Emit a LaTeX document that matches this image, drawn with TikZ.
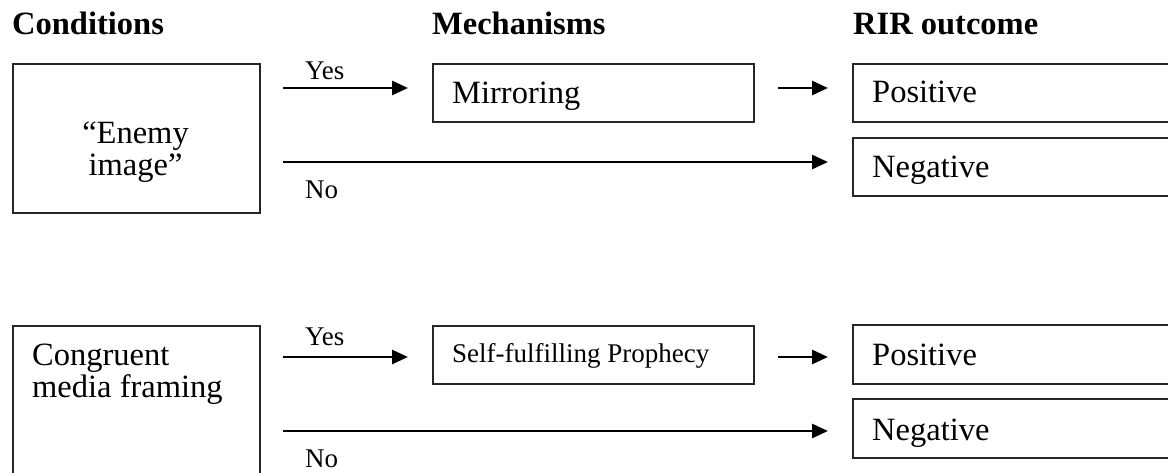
\documentclass[tikz,border=0pt]{standalone}
\usepackage{fontspec}
\setmainfont{Liberation Serif}
\usetikzlibrary{arrows.meta}
\begin{document}
\begin{tikzpicture}[x=1pt,y=-1pt,
  box/.style={draw=black!85, line width=1.8pt, rectangle, inner sep=0pt, anchor=north west},
  body/.style={font=\fontsize{32.5}{32}\selectfont, anchor=base west, inner sep=0pt},
  head/.style={font=\fontsize{32.5}{32}\selectfont\bfseries, anchor=base west, inner sep=0pt},
  lab/.style={font=\fontsize{27}{27}\selectfont, anchor=base west, inner sep=0pt},
  small/.style={font=\fontsize{27}{27}\selectfont, anchor=base west, inner sep=0pt},
  arr/.style={line width=2.8pt, -{Triangle[length=16pt,width=14pt]}}]
\useasboundingbox (0,0) rectangle (1168,473);
\clip (0,0) rectangle (1168,473);

% headers
\node[head] (hc) at (12,35) {Conditions};
\node[head] (hm) at (432,35) {Mechanisms};
\node[head] (hr) at (853,35) {RIR outcome};

% ---- top row ----
\node[box, minimum width=247pt, minimum height=149pt] (c1) at (12,63) {};
\node[body, anchor=base] (c1a) at (135.5,144) {“Enemy};
\node[body, anchor=base] (c1b) at (135.5,176) {image”};

\node[box, minimum width=321pt, minimum height=58pt] (m1) at (432,63) {};
\node[body] (m1t) at (452,104) {Mirroring};

\node[box, minimum width=360pt, minimum height=58pt] (p1) at (852,63) {};
\node[body] (p1t) at (872,103) {Positive};
\node[box, minimum width=360pt, minimum height=58pt] (n1) at (852,137) {};
\node[body] (n1t) at (872,178) {Negative};

\coordinate (y1s) at (283,88);
\coordinate (y1e) at (408,88);
\coordinate (o1s) at (778,88);
\coordinate (o1e) at (828,88);
\coordinate (no1s) at (283,162);
\coordinate (no1e) at (828,162);
\draw[arr] (y1s) -- (y1e);
\draw[arr] (o1s) -- (o1e);
\draw[arr] (no1s) -- (no1e);
\node[lab] (yes1) at (305,80) {Yes};
\node[lab] (no1) at (305,199) {No};

% ---- bottom row ----
\node[box, minimum width=247pt, minimum height=200pt] (c2) at (12,325) {};
\node[body] (c2a) at (32,365) {Congruent};
\node[body] (c2b) at (32,397) {media framing};

\node[box, minimum width=321pt, minimum height=58pt] (m2) at (432,325) {};
\node[small] (m2t) at (452,362) {Self-fulfilling Prophecy};

\node[box, minimum width=360pt, minimum height=59pt] (p2) at (852,324) {};
\node[body] (p2t) at (872,365) {Positive};
\node[box, minimum width=360pt, minimum height=59pt] (n2) at (852,398) {};
\node[body] (n2t) at (872,440) {Negative};

\coordinate (y2s) at (283,357);
\coordinate (y2e) at (408,357);
\coordinate (o2s) at (778,357);
\coordinate (o2e) at (828,357);
\coordinate (no2s) at (283,431);
\coordinate (no2e) at (828,431);
\draw[arr] (y2s) -- (y2e);
\draw[arr] (o2s) -- (o2e);
\draw[arr] (no2s) -- (no2e);
\node[lab] (yes2) at (305,345) {Yes};
\node[lab] (no2) at (305,467) {No};
\end{tikzpicture}
\end{document}
